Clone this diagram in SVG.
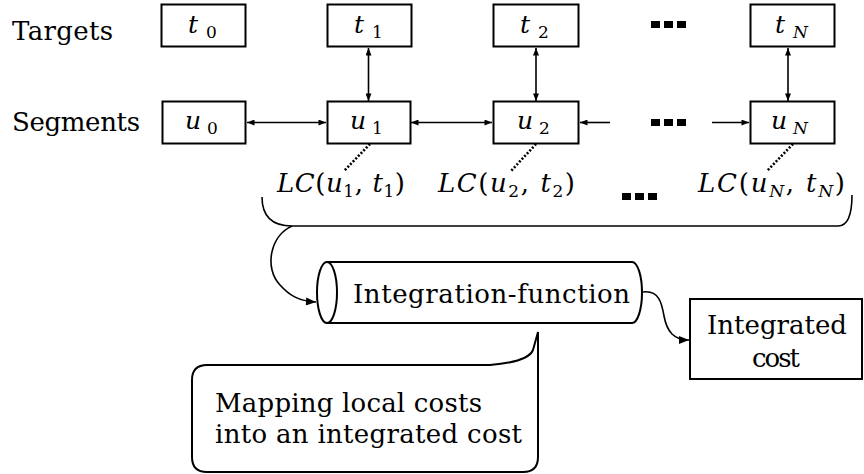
<svg xmlns="http://www.w3.org/2000/svg" width="864" height="474" viewBox="0 0 864 474">
<defs>
<marker id="ah" viewBox="0 0 10 8" refX="10" refY="4" markerWidth="8" markerHeight="6" markerUnits="userSpaceOnUse" orient="auto-start-reverse"><path d="M0,0 L10,4 L0,8 Z" fill="#000"/></marker>
<marker id="ahb" viewBox="0 0 10 8" refX="10" refY="4" markerWidth="11" markerHeight="8" markerUnits="userSpaceOnUse" orient="auto"><path d="M0,0 L10,4 L0,8 Z" fill="#000"/></marker>
</defs>
<style>
text{font-family:"DejaVu Serif","Liberation Serif",serif;font-size:26px;fill:#000}
.i{font-style:italic}
.b{font-size:25px}
.s{font-size:17px}
.box{fill:#fff;stroke:#000;stroke-width:2}
.ln{fill:none;stroke:#000;stroke-width:1.6}
.dot{fill:none;stroke:#000;stroke-width:2.6;stroke-dasharray:2 1.8}
.sq{fill:#000}
</style>
<rect width="864" height="474" fill="#fff"/>
<text x="12" y="40" textLength="101">Targets</text>
<text x="12" y="131" textLength="128">Segments</text>
<g id="connectors">
<line class="ln" x1="368.5" y1="48" x2="368.5" y2="101" marker-start="url(#ah)" marker-end="url(#ah)"/>
<line class="ln" x1="536" y1="48" x2="536" y2="101" marker-start="url(#ah)" marker-end="url(#ah)"/>
<line class="ln" x1="788" y1="48" x2="788" y2="101" marker-start="url(#ah)" marker-end="url(#ah)"/>
<line class="ln" x1="247" y1="122.5" x2="326" y2="122.5" marker-start="url(#ah)" marker-end="url(#ah)"/>
<line class="ln" x1="411" y1="122.5" x2="492" y2="122.5" marker-start="url(#ah)" marker-end="url(#ah)"/>
<line class="ln" x1="610" y1="122.5" x2="580" y2="122.5" marker-end="url(#ah)"/>
<line class="ln" x1="712" y1="122.5" x2="749" y2="122.5" marker-end="url(#ah)"/>
<line class="dot" x1="370" y1="144" x2="344" y2="171"/>
<line class="dot" x1="536" y1="144" x2="511" y2="171"/>
<line class="dot" x1="793" y1="144" x2="767" y2="171"/>
<path class="ln" stroke-width="2" d="M262 197 Q262 226 292 226 L838 226 Q852 226 852 195"/>
<path class="ln" stroke-width="2" d="M292 226 C270 236 264 268 280 285 C289 295 298 301 316 302" marker-end="url(#ahb)"/>
<path class="ln" stroke-width="2" d="M643 292 C660 290 662 305 664 316 C667 332 674 340 689 340" marker-end="url(#ahb)"/>
</g>
<g id="dots">
<rect class="sq" x="651" y="21" width="9" height="7"/><rect class="sq" x="664" y="21" width="9" height="7"/><rect class="sq" x="677" y="21" width="9" height="7"/>
<rect class="sq" x="651" y="119" width="9" height="7"/><rect class="sq" x="664" y="119" width="9" height="7"/><rect class="sq" x="677" y="119" width="9" height="7"/>
<rect class="sq" x="622" y="193" width="9" height="7"/><rect class="sq" x="635" y="193" width="9" height="7"/><rect class="sq" x="648" y="193" width="9" height="7"/>
</g>
<g id="t0"><rect class="box" x="161.5" y="4.5" width="84" height="42"/><text class="b" x="188" y="33"><tspan class="i">t</tspan><tspan class="s" dx="8" dy="5">0</tspan></text></g>
<g id="t1"><rect class="box" x="327.5" y="4.5" width="84" height="42"/><text class="b" x="354" y="33"><tspan class="i">t</tspan><tspan class="s" dx="8" dy="5">1</tspan></text></g>
<g id="t2"><rect class="box" x="493.5" y="4.5" width="85" height="42"/><text class="b" x="520" y="33"><tspan class="i">t</tspan><tspan class="s" dx="8" dy="5">2</tspan></text></g>
<g id="tN"><rect class="box" x="750.5" y="4.5" width="84" height="42"/><text class="b" x="775" y="33"><tspan class="i">t</tspan><tspan class="s i" dx="8" dy="5">N</tspan></text></g>
<g id="u0"><rect class="box" x="162.5" y="101.5" width="83" height="42"/><text class="b" x="185" y="129"><tspan class="i">u</tspan><tspan class="s" dx="6" dy="5">0</tspan></text></g>
<g id="u1"><rect class="box" x="327.5" y="101.5" width="83" height="42"/><text class="b" x="350" y="129"><tspan class="i">u</tspan><tspan class="s" dx="6" dy="5">1</tspan></text></g>
<g id="u2"><rect class="box" x="493.5" y="101.5" width="85" height="42"/><text class="b" x="517" y="129"><tspan class="i">u</tspan><tspan class="s" dx="6" dy="5">2</tspan></text></g>
<g id="uN"><rect class="box" x="750.5" y="101.5" width="84" height="42"/><text class="b" x="771" y="129"><tspan class="i">u</tspan><tspan class="s i" dx="6" dy="5">N</tspan></text></g>
<g id="lc1"><text x="277" y="192" textLength="128"><tspan class="i">LC</tspan>(<tspan class="i">u</tspan><tspan class="s" dy="5">1</tspan><tspan dy="-5">, </tspan><tspan class="i">t</tspan><tspan class="s" dy="5">1</tspan><tspan dy="-5">)</tspan></text></g>
<g id="lc2"><text x="438" y="192" textLength="137"><tspan class="i">LC</tspan>(<tspan class="i">u</tspan><tspan class="s" dy="5">2</tspan><tspan dy="-5">, </tspan><tspan class="i">t</tspan><tspan class="s" dy="5">2</tspan><tspan dy="-5">)</tspan></text></g>
<g id="lcN"><text x="698" y="192" textLength="147"><tspan class="i">LC</tspan>(<tspan class="i">u</tspan><tspan class="s i" dy="5">N</tspan><tspan dy="-5">, </tspan><tspan class="i">t</tspan><tspan class="s i" dy="5">N</tspan><tspan dy="-5">)</tspan></text></g>
<g id="integration-function">
<path class="box" d="M327 262 L632 262 A10 30.5 0 0 1 632 323 L327 323 Z"/>
<ellipse class="box" cx="327" cy="292.5" rx="10" ry="30.5"/>
<text x="353" y="303" textLength="277">Integration-function</text>
</g>
<g id="integrated-cost">
<rect class="box" x="690" y="299" width="172" height="80"/>
<text x="707" y="334" textLength="140">Integrated</text>
<text x="752" y="367" textLength="48">cost</text>
</g>
<g id="callout">
<path class="box" d="M207 365 L490 365 Q528 362 533 350 L538 332 L538 457 Q538 472 523 472 L207 472 Q192 472 192 457 L192 380 Q192 365 207 365 Z"/>
<text x="215" y="412" textLength="267">Mapping local costs</text>
<text x="215" y="443" textLength="307">into an integrated cost</text>
</g>
</svg>
